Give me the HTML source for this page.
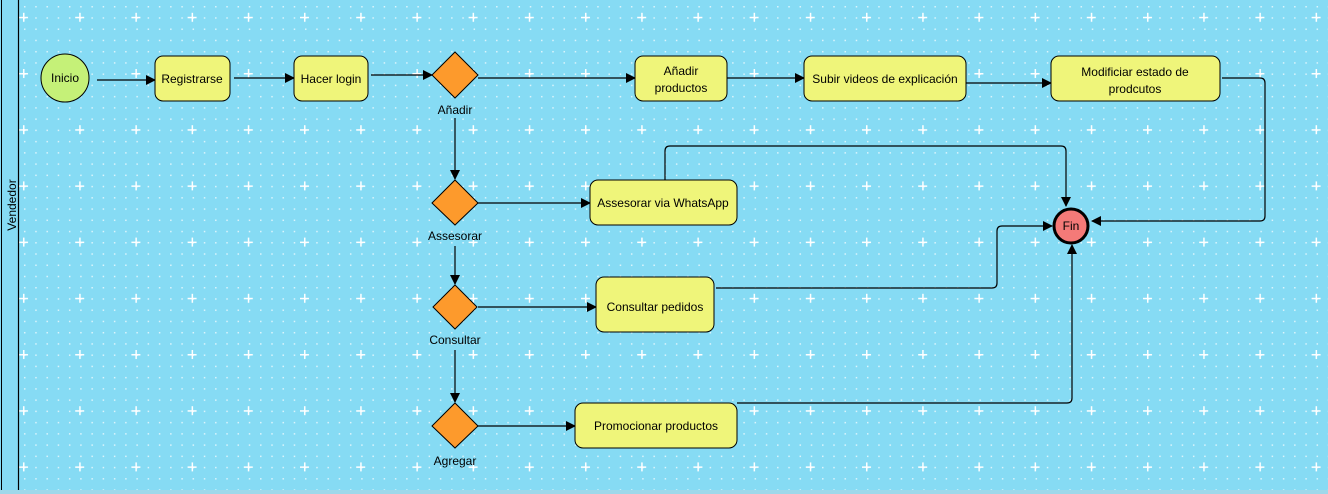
<!DOCTYPE html>
<html><head><meta charset="utf-8"><style>
html,body{margin:0;padding:0;background:#86dbf4;}
svg{display:block;font-family:"Liberation Sans",Arial,sans-serif;}
</style></head><body>
<svg width="1328" height="494" viewBox="0 0 1328 494" xmlns="http://www.w3.org/2000/svg">
<defs>
<pattern id="dots" x="1.5" y="6" width="11.24" height="11.24" patternUnits="userSpaceOnUse">
<rect x="0" y="0" width="1.5" height="1.5" fill="#ffffff" opacity="0.7"/>
</pattern>
<pattern id="cross" x="19" y="69" width="56.2" height="56.2" patternUnits="userSpaceOnUse">
<rect x="0" y="4" width="9" height="1.5" fill="#fff"/><rect x="4" y="0" width="1.5" height="9" fill="#fff"/>
</pattern>
<marker id="a" markerWidth="10" markerHeight="10" refX="9" refY="5" orient="auto" markerUnits="userSpaceOnUse">
<path d="M0,0 L10,5 L0,10 z" fill="#000"/>
</marker>
</defs>
<rect width="1328" height="494" fill="#86dbf4"/>
<rect x="18" y="0" width="1310" height="490" fill="url(#dots)"/>
<rect x="18" y="0" width="1310" height="490" fill="url(#cross)"/>
<rect x="0" y="490" width="1328" height="4" fill="#9fd8ea"/>
<line x1="1.5" y1="0" x2="1.5" y2="490" stroke="#000" stroke-width="1"/>
<line x1="18.5" y1="0" x2="18.5" y2="490" stroke="#000" stroke-width="1.2"/>
<text x="0" y="0" transform="translate(16,205) rotate(-90)" text-anchor="middle" font-size="12">Vendedor</text>

<g fill="none" stroke="#000" stroke-width="1.2">
<line x1="97" y1="80" x2="155" y2="80" marker-end="url(#a)"/>
<line x1="234" y1="78" x2="294" y2="78" marker-end="url(#a)"/>
<line x1="371" y1="75" x2="432" y2="75" marker-end="url(#a)"/>
<line x1="478" y1="78" x2="635" y2="78" marker-end="url(#a)"/>
<line x1="727" y1="78" x2="804" y2="78" marker-end="url(#a)"/>
<line x1="966" y1="83" x2="1051" y2="83" marker-end="url(#a)"/>
<path d="M1222,78 H1260 Q1265,78 1265,83 V216 Q1265,221 1260,221 H1092" marker-end="url(#a)"/>
<line x1="455" y1="118" x2="455" y2="179" marker-end="url(#a)"/>
<line x1="478" y1="203" x2="590" y2="203" marker-end="url(#a)"/>
<path d="M665,180 V151 Q665,146 670,146 H1061 Q1066,146 1066,151 V206" marker-end="url(#a)"/>
<line x1="455" y1="246" x2="455" y2="284" marker-end="url(#a)"/>
<line x1="478" y1="307" x2="596" y2="307" marker-end="url(#a)"/>
<path d="M716,288 H992 Q997,288 997,283 V231 Q997,226 1002,226 H1052" marker-end="url(#a)"/>
<line x1="455" y1="350" x2="455" y2="402" marker-end="url(#a)"/>
<line x1="478" y1="426" x2="575" y2="426" marker-end="url(#a)"/>
<path d="M737,403 H1067 Q1072,403 1072,398 V245" marker-end="url(#a)"/>
</g>

<g stroke="#000" stroke-width="1">
<circle cx="65" cy="78" r="24" fill="#c5f178"/>
<rect x="155" y="56" width="75" height="45" rx="8" fill="#eff57a"/>
<rect x="294" y="56" width="74" height="45" rx="8" fill="#eff57a"/>
<rect x="635" y="56" width="92" height="45" rx="8" fill="#eff57a"/>
<rect x="804" y="56" width="162" height="45" rx="8" fill="#eff57a"/>
<rect x="1051" y="56" width="169" height="45" rx="8" fill="#eff57a"/>
<rect x="590" y="180" width="147" height="45" rx="8" fill="#eff57a"/>
<rect x="596" y="277" width="118" height="55" rx="8" fill="#eff57a"/>
<rect x="575" y="403" width="162" height="45" rx="8" fill="#eff57a"/>
<polygon points="455,52 478,75 455,98 432,75" fill="#fd9a2c"/>
<polygon points="455,180 478,203 455,225 432,203" fill="#fd9a2c"/>
<polygon points="455,285 477,307 455,329 433,307" fill="#fd9a2c"/>
<polygon points="455,403 478,426 455,448 432,426" fill="#fd9a2c"/>
<circle cx="1071" cy="226" r="17" fill="#f47a78" stroke-width="3"/>
</g>

<g font-size="12" fill="#000" text-anchor="middle">
<text x="65" y="82">Inicio</text>
<text x="192" y="83">Registrarse</text>
<text x="331" y="83">Hacer login</text>
<text x="455" y="114">Añadir</text>
<text x="681" y="75">Añadir</text>
<text x="681" y="92">productos</text>
<text x="885" y="83">Subir videos de explicación</text>
<text x="1135" y="76">Modificiar estado de</text>
<text x="1135" y="93">prodcutos</text>
<text x="663" y="207">Assesorar via WhatsApp</text>
<text x="455" y="240">Assesorar</text>
<text x="655" y="311">Consultar pedidos</text>
<text x="455" y="344">Consultar</text>
<text x="656" y="430">Promocionar productos</text>
<text x="455" y="465">Agregar</text>
<text x="1071" y="230">Fin</text>
</g>
</svg>
</body></html>
